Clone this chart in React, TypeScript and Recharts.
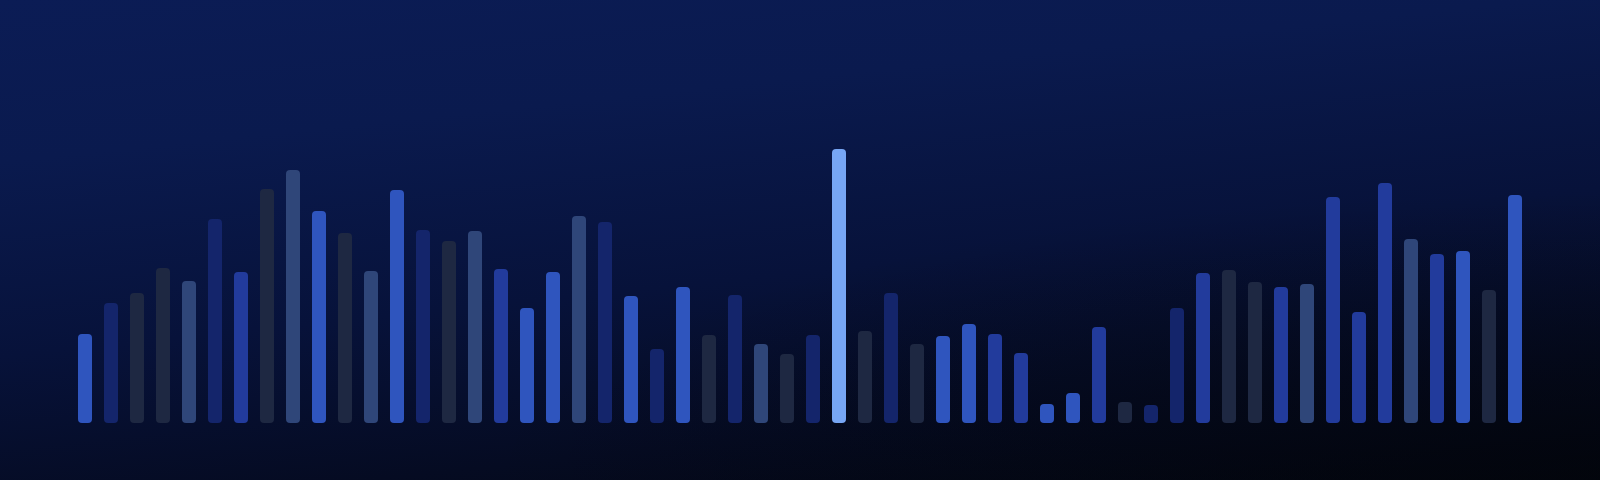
import { BarChart, Bar, XAxis, YAxis, Cell } from "recharts";

// 56 unlabeled categories
const categories = Array.from({ length: 56 }, (_, i) => `${i + 1}`);

const values = [
  89, 120, 130, 155, 142, 204, 151, 234, 253, 212, 190, 152, 233, 193,
  182, 192, 154, 115, 151, 207, 201, 127, 74, 136, 88, 128, 79, 69,
  88, 274, 92, 130, 79, 87, 99, 89, 70, 19, 30, 96, 21, 18,
  115, 150, 153, 141, 136, 139, 226, 111, 240, 184, 169, 172, 133, 228,
];

// colour group of each bar
const tones = [
  "bright", "navy", "slate", "slate", "steel", "navy", "medium", "slate", "steel", "bright",
  "slate", "steel", "bright", "navy", "slate", "steel", "medium", "bright", "bright", "steel",
  "navy", "bright", "navy", "bright", "slate", "navy", "steel", "slate", "navy", "highlight",
  "slate", "navy", "slate", "bright", "bright", "medium", "medium", "bright", "bright", "medium",
  "slate", "navy", "navy", "medium", "slate", "slate", "medium", "steel", "medium", "medium",
  "medium", "steel", "medium", "bright", "slate", "bright",
];

const palette: Record<string, string> = {
  bright: "#2f55be",
  medium: "#223b9c",
  navy: "#14256b",
  slate: "#1e2842",
  steel: "#2f4679",
  highlight: "#77a6f4",
};

const data = categories.map((c, i) => ({ name: c, value: values[i] }));

export default function App() {
  return (
    <div
      style={{
        position: "fixed",
        left: 0,
        top: 0,
        width: 1600,
        height: 480,
        background:
          "radial-gradient(ellipse 70% 60% at 100% 100%, rgba(2,4,10,0.6), rgba(2,4,10,0) 100%), " +
          "linear-gradient(174deg, #0b1c55 0%, #0a1a4e 25%, #07123a 55%, #050b22 80%, #03060f 100%)",
      }}
    >
      <BarChart
        width={1600}
        height={480}
        data={data}
        margin={{ top: 123, right: 72, bottom: 57, left: 72 }}
        barSize={14}
      >
        <XAxis dataKey="name" hide />
        <YAxis hide domain={[0, 300]} />
        <Bar dataKey="value" radius={4} isAnimationActive={false}>
          {data.map((d, i) => (
            <Cell key={d.name} fill={palette[tones[i]]} />
          ))}
        </Bar>
      </BarChart>
    </div>
  );
}
